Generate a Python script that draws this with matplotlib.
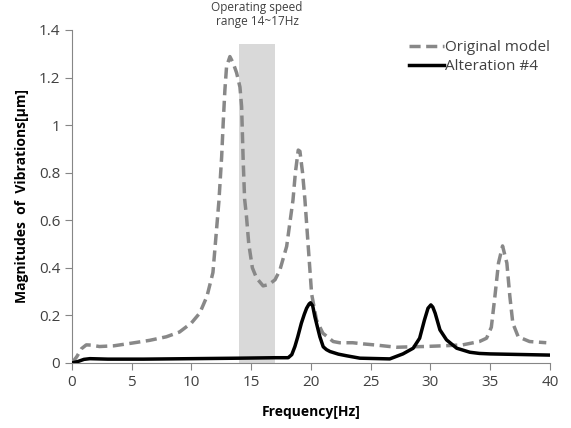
import matplotlib
matplotlib.use("Agg")
import matplotlib.pyplot as plt

# Original model (gray dashed)
orig_x = [0, 0.4, 0.8, 1.2, 1.6, 2.3, 3.5, 5.1, 6.5, 7.9, 9.0, 10.0, 10.7, 11.3, 11.8, 12.3, 12.53, 12.66,
          12.8, 12.94, 13.22, 13.5, 13.78, 14.06, 14.2, 14.33, 14.45, 14.6, 14.8, 15.1, 15.45, 16.0,
          16.5, 17.0, 17.4, 17.97, 18.5, 18.7, 18.94, 19.08, 19.3, 19.5, 20.06, 20.47, 21.0, 21.87,
          22.4, 23.5, 24.4, 25.5, 26.6, 27.2, 28.5, 29.4, 30.5, 31.5, 32.7, 34.1, 34.7, 35.1, 35.4,
          35.7, 36.04, 36.4, 36.65, 36.9, 37.35, 38.3, 39.7]
orig_y = [0.0, 0.026, 0.06, 0.076, 0.075, 0.069, 0.072, 0.084, 0.095, 0.11, 0.13, 0.168, 0.21, 0.28, 0.38, 0.68, 0.867, 1.01,
          1.147, 1.246, 1.288, 1.26, 1.22, 1.16, 1.078, 0.853, 0.69, 0.62, 0.5, 0.4, 0.357, 0.324,
          0.33, 0.35, 0.39, 0.49, 0.685, 0.8, 0.895, 0.89, 0.8, 0.685, 0.29, 0.18, 0.125, 0.09,
          0.085, 0.085, 0.08, 0.075, 0.069, 0.066, 0.068, 0.069, 0.071, 0.073, 0.076, 0.09, 0.104, 0.15, 0.28,
          0.42, 0.492, 0.42, 0.28, 0.167, 0.11, 0.09, 0.085]

# Alteration #4 (black solid)
alt_x = [0, 0.5, 1.0, 1.5, 3.0, 6.0, 10.0, 14.0, 17.0, 18.1, 18.4, 18.66, 18.9, 19.2, 19.45, 19.64, 19.85,
         19.97, 20.15, 20.33, 20.55, 20.75, 21.03, 21.3, 21.6, 22.3, 23.0, 24.1, 26.6, 27.7, 28.56, 29.1,
         29.5, 29.8, 30.04, 30.2, 30.4, 30.8, 31.35, 32.2, 33.3, 34.1, 35.0, 37.0, 40.0]
alt_y = [0.0, 0.006, 0.015, 0.018, 0.016, 0.016, 0.018, 0.02, 0.022, 0.022, 0.035, 0.069, 0.11, 0.167, 0.205, 0.23, 0.248,
         0.253, 0.24, 0.195, 0.15, 0.11, 0.068, 0.056, 0.048, 0.037, 0.03, 0.02, 0.017, 0.038, 0.062, 0.104,
         0.18, 0.23, 0.244, 0.235, 0.209, 0.139, 0.097, 0.062, 0.045, 0.04, 0.038, 0.036, 0.033]

band = (14, 17)
band_top = 1.34

x_ticks = [0, 5, 10, 15, 20, 25, 30, 35, 40]
y_ticks = [0, 0.2, 0.4, 0.6, 0.8, 1.0, 1.2, 1.4]
y_tick_labels = ["0", "0.2", "0.4", "0.6", "0.8", "1", "1.2", "1.4"]

plt.rcParams['font.family'] = ['Open Sans', 'DejaVu Sans']

fig = plt.figure(figsize=(5.71, 4.28), dpi=100)
ax = fig.add_axes([0.126, 0.152, 0.837, 0.778])

ax.fill_between(band, [0, 0], [band_top, band_top], color="#d9d9d9", lw=0, zorder=1)
ax.plot(orig_x, orig_y, color="#888888", lw=2.5, ls=(0, (3.2, 1.6)), label="Original model", zorder=3)
ax.plot(alt_x, alt_y, color="black", lw=2.5, label="Alteration #4", zorder=4)

ax.set_xlim(0, 40)
ax.set_ylim(0, 1.4)
ax.set_xticks(x_ticks)
ax.set_yticks(y_ticks)
ax.set_yticklabels(y_tick_labels)
for s in ["top", "right"]:
    ax.spines[s].set_visible(False)
for s in ["left", "bottom"]:
    ax.spines[s].set_color("#868686")
ax.tick_params(axis="both", colors="#868686", labelcolor="#404040", labelsize=11, length=5, direction="out")

ax.set_xlabel("Frequency[Hz]", fontsize=10, fontweight="bold", labelpad=11)
ax.set_ylabel("Magnitudes  of  Vibrations[\u03bcm]", fontsize=10, fontweight="bold", labelpad=7)

ax.text(15.5, 1.41, "Operating speed\nrange 14~17Hz", ha="center", va="bottom", fontsize=8.5,
        color="#404040", linespacing=1.1, clip_on=False)

leg = ax.legend(loc="upper right", bbox_to_anchor=(1.03, 1.01), frameon=False, fontsize=11,
                handlelength=2.3, handletextpad=0.1, labelspacing=0.25)
for t in leg.get_texts():
    t.set_color("#404040")

fig.savefig("out.png", dpi=100)
